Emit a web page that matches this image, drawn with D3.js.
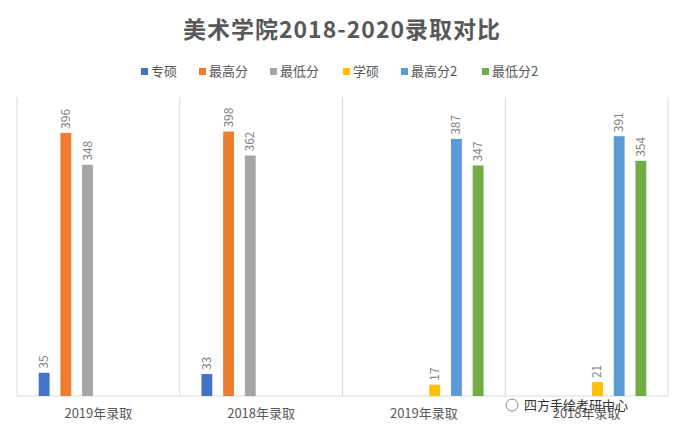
<!DOCTYPE html>
<html><head><meta charset="utf-8">
<script src="https://cdn.jsdelivr.net/npm/d3@7"></script>
<style>body{margin:0;background:#fff}</style></head>
<body><svg id="c" width="684" height="432"></svg>
<script>
const categories = ["2019年录取","2018年录取","2019年录取","2018年录取"];
const series = ["专硕","最高分","最低分","学硕","最高分2","最低分2"];
const colors = ["#4472C4","#ED7D31","#A5A5A5","#FFC000","#5B9BD5","#70AD47"];
const values = [
  [35,396,348,null,null,null],
  [33,398,362,null,null,null],
  [null,null,null,17,387,347],
  [null,null,null,21,391,354]
];
const svg = d3.select("#c");
const font = "'Microsoft YaHei','Noto Sans CJK SC',sans-serif";
const L=17,R=668,T=97,B=396;
const x0 = d3.scaleBand().domain(d3.range(categories.length)).range([L,R]).padding(0);
const x1 = d3.scaleBand().domain(series).range([0,x0.bandwidth()]).paddingInner(0.5).paddingOuter(1.0);
const y = d3.scaleLinear().domain([0,450]).range([B,T]);
svg.append("text").attr("x",342).attr("y",38).attr("text-anchor","middle")
  .attr("font-family",font).attr("font-size",23).attr("font-weight","bold").attr("fill","#595959")
  .attr("letter-spacing",1).text("美术学院2018-2020录取对比");
const lx=[141,199,270,343,401,482];
series.forEach((s,i)=>{
  svg.append("rect").attr("x",lx[i]).attr("y",68).attr("width",7).attr("height",7).attr("fill",colors[i]);
  svg.append("text").attr("x",lx[i]+10).attr("y",76).attr("font-family",font).attr("font-size",13).attr("fill","#595959").text(s);
});
// separators
[...d3.range(categories.length).map(i=>x0(i)), R].forEach(xx=>{
  svg.append("line").attr("x1",xx).attr("x2",xx).attr("y1",T).attr("y2",B).attr("stroke","#d9d9d9");
});
svg.append("line").attr("x1",L).attr("x2",R).attr("y1",B).attr("y2",B).attr("stroke","#d9d9d9");
values.forEach((row,ci)=>{
  const g = svg.append("g").attr("transform",`translate(${x0(ci)},0)`);
  row.forEach((v,si)=>{
    if(v==null) return;
    const bx = x1(series[si]);
    g.append("rect").attr("x",bx).attr("y",y(v)).attr("width",x1.bandwidth()).attr("height",B-y(v)).attr("fill",colors[si]);
    const cx = bx+x1.bandwidth()/2+4, ty = y(v)-4;
    g.append("text").attr("transform",`translate(${cx},${ty}) rotate(-90)`)
      .attr("font-family",font).attr("font-size",12).attr("fill","#7f7f7f").text(v);
  });
  svg.append("text").attr("x",x0(ci)+x0.bandwidth()/2).attr("y",418).attr("text-anchor","middle")
    .attr("font-family",font).attr("font-size",13).attr("fill","#595959").text(categories[ci]);
});
svg.append("circle").attr("cx",512).attr("cy",405).attr("r",6).attr("fill","none").attr("stroke","#888");
svg.append("text").attr("x",524).attr("y",410).attr("font-family",font).attr("font-size",13).attr("fill","#333").text("四方手绘考研中心");
</script></body></html>
